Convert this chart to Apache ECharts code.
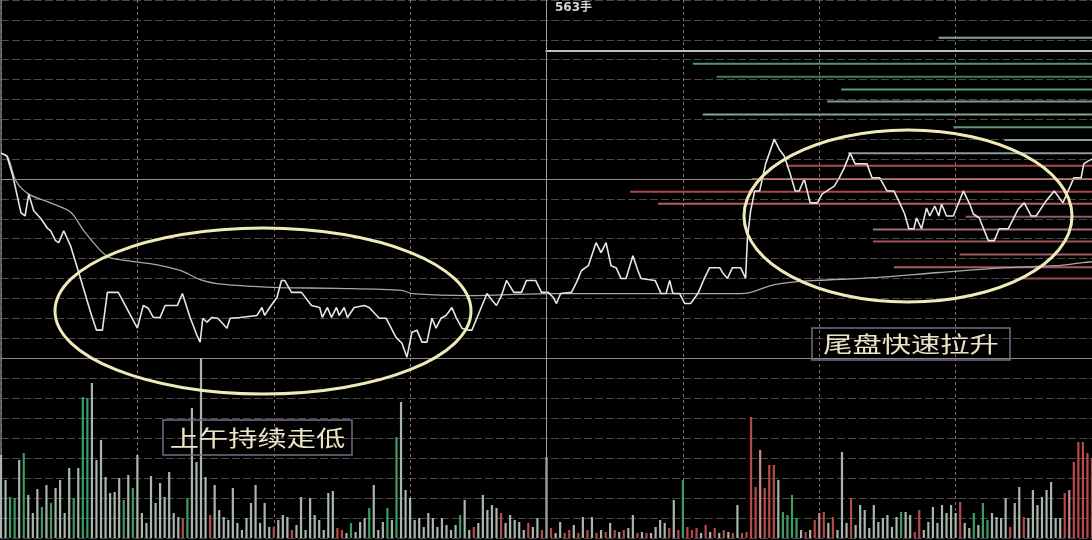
<!DOCTYPE html>
<html><head><meta charset="utf-8">
<script src="https://cdn.jsdelivr.net/npm/echarts@6/dist/echarts.min.js"></script>
<style>html,body{margin:0;padding:0;background:#000;}#c{width:1092px;height:540px;}</style>
</head><body><div id="c"></div>
<script>
// ---- time axis (minutes since open), 30-minute ticks ----
const timeTicks = [0, 30, 60, 90, 120, 150, 180, 210, 240];

// ---- price line vertices (minute, % change vs prev close) ----
const priceTimes = [0,1.3,2.6,4.4,5.3,6.1,7.2,8.8,10.3,10.9,12.0,12.7,13.8,15.3,17.5,19.7,21.0,22.3,23.4,25.8,28.5,30.0,31.3,32.4,33.5,35.0,36.1,38.8,39.9,41.6,43.1,43.8,44.4,45.3,46.4,47.7,49.7,50.4,52.6,56.3,57.4,58.0,59.1,60.7,61.7,62.4,63.9,66.1,68.3,70.1,70.7,71.8,72.7,73.8,74.4,75.5,76.2,77.7,79.9,81.0,83.2,84.7,86.9,88.2,89.3,90.4,91.5,92.6,93.7,94.8,95.7,96.8,97.9,99.2,100.1,101.4,102.9,103.6,105.1,106.9,108.0,109.0,110.1,111.2,112.8,114.5,115.6,117.6,118.9,120.4,121.5,122.2,123.1,125.5,126.6,127.7,129.2,130.9,132.0,133.1,134.2,135.3,136.4,137.5,139.0,140.1,140.8,143.9,145.2,146.3,147.1,147.8,149.3,150.4,151.7,153.3,154.8,155.9,158.1,158.7,159.8,160.9,162.7,163.8,164.2,164.9,165.8,166.9,168.2,170.1,171.2,172.3,173.6,174.7,175.6,176.7,178.0,179.6,180.6,181.7,183.3,184.4,185.5,186.8,187.9,190.5,191.6,193.3,194.9,196.4,197.7,198.8,199.7,200.8,201.4,202.5,203.6,204.3,205.4,206.3,206.9,208.0,209.5,211.7,213.1,213.9,215.2,217.2,218.5,219.6,221.6,223.8,225.1,226.6,227.7,229.9,231.7,233.6,236.0,237.6,238.2,239.1,240];
const priceValues = [0.65,0.58,0.08,-0.85,-0.93,-0.38,-0.8,-1.0,-1.25,-1.3,-1.55,-1.6,-1.3,-1.68,-2.5,-3.35,-3.8,-3.8,-2.85,-2.85,-3.43,-3.75,-3.18,-3.25,-3.48,-3.48,-3.18,-3.18,-2.88,-3.48,-3.93,-4.1,-3.5,-3.6,-3.48,-3.5,-3.75,-3.5,-3.48,-3.43,-3.23,-3.43,-3.23,-2.98,-2.55,-2.55,-2.85,-2.85,-3.18,-3.23,-3.48,-3.23,-3.48,-3.23,-3.43,-3.23,-3.48,-3.23,-3.18,-3.23,-3.5,-3.5,-3.98,-4.13,-4.48,-3.85,-3.8,-4.1,-4.1,-3.5,-3.75,-3.5,-3.43,-3.23,-3.48,-3.75,-3.8,-3.8,-3.38,-2.88,-3.05,-3.18,-2.93,-2.55,-2.85,-2.85,-2.55,-2.55,-2.85,-2.85,-2.98,-3.13,-2.88,-2.85,-2.6,-2.3,-2.18,-1.6,-1.85,-1.6,-2.18,-2.23,-2.5,-2.5,-1.93,-2.3,-2.5,-2.55,-2.88,-2.88,-2.55,-2.88,-2.88,-3.13,-3.13,-2.88,-2.48,-2.23,-2.23,-2.35,-2.5,-2.23,-2.23,-2.5,-1.48,-0.8,-0.3,-0.3,0.38,1.0,0.75,0.58,0.13,-0.3,-0.3,0.0,-0.6,-0.6,-0.38,-0.3,-0.18,0.03,0.28,0.65,0.38,0.38,0.03,0.03,-0.3,-0.3,-0.6,-0.88,-1.25,-1.25,-0.98,-1.25,-0.73,-0.93,-0.68,-0.93,-0.63,-0.93,-0.93,-0.3,-0.63,-0.88,-0.98,-1.55,-1.55,-1.25,-1.25,-0.75,-0.6,-0.93,-0.93,-0.55,-0.3,-0.6,0.03,0.03,0.38,0.45,0.5];

// ---- average price line vertices ----
const avgTimes = [0,1.5,3.3,6.1,10.9,15.3,18.2,21.9,24.1,32.8,39.4,43.8,47.5,55.4,61.3,73.8,88.2,90.4,102.9,120.4,162.0,164.9,169.3,173.6,179.6,192.0,206.5,221.2,232.1,238.0,240];
const avgValues = [0.65,0.55,-0.05,-0.38,-0.6,-0.83,-1.3,-1.8,-1.98,-2.13,-2.3,-2.53,-2.63,-2.7,-2.73,-2.75,-2.8,-2.88,-2.93,-2.88,-2.88,-2.85,-2.68,-2.6,-2.55,-2.48,-2.35,-2.23,-2.18,-2.1,-2.08];

// ---- per-minute volume (lots) and colour code: w grey, g green, r red, p pink ----
const volumes = [4150,2900,2050,2000,3900,4250,2150,1250,2450,1550,2650,1750,2500,2900,1250,3500,2000,3500,7050,7000,7750,3900,4900,3050,2250,2300,3000,1900,3150,2500,4150,1250,750,3100,1750,2750,2050,3300,1250,1050,1000,2000,6500,3800,9000,3050,1150,2650,1400,1050,900,2500,750,400,1000,1750,2650,750,1750,550,
550,900,1150,1050,400,650,2050,400,2000,1150,900,400,2250,2350,500,400,250,750,300,800,1000,1500,2650,400,800,1500,900,5050,6800,2400,2000,900,1000,550,1250,1000,550,1000,650,400,650,1150,1900,400,550,750,2150,1400,1650,1500,1250,750,1150,900,800,400,750,550,1000,400,
4050,500,250,800,250,400,650,250,1050,400,1050,250,400,300,750,400,300,400,500,1150,250,300,250,250,550,900,750,500,1900,400,2900,550,400,500,250,650,300,500,250,400,300,250,1650,250,300,6050,2550,4400,2500,3650,3650,2900,1300,1150,2150,1000,400,300,400,900,
1250,1300,750,1050,400,4300,750,2000,650,1650,1400,500,1650,800,1000,1150,550,1050,1300,1300,1150,300,1400,400,800,1550,750,1650,1250,1650,1250,1800,750,500,1250,650,1750,900,1250,1050,1000,2000,550,1750,2550,1050,1000,2400,1650,2050,2400,2800,1000,1000,2250,2400,3800,4800,4800,4250,4000];
const volumeColorCodes = ("wwggwgwwwg"+"wgwwwwgwgg"+"wwwwwwwgwg"+"wwwwwwwwww"+"rgwwwwrwww"+"wwwwwwwwww"+
  "rwwwrwwwww"+"wwwwrrwgww"+"wgwwwgwgww"+"wwwwwwwwww"+"wgwwrwwwww"+"rwwwwwrwwr"+
  "wrwwrrwrwr"+"wrwrwrwrww"+"rwrwwwwrwr"+"grrrwrwrwr"+"wrwrrrrprr"+"rwggggwrwr"+
  "prwrwwwrww"+"wwwwwwwwgw"+"wrrwwwwwww"+"wrwwgwggww"+"wwrwwrwwww"+"wwwwrprrrrr").split('');

// ---- chip distribution (price level %, size, colour) ----
const chipPrices = [3.55,3.22,2.9,2.57,2.25,1.95,1.62,1.3,0.98,0.65,0.33,0,-0.32,-0.62,-0.95,-1.27,-1.57,-1.9,-2.22,-2.5];
const chipSizes  = [154,549,401,377,252,266,391,139,88,245,307,342,464,436,127,220,220,133,199,70];
const chipColors = ['#86a392','#b8c2bd','#4f9a6a','#3f7f55','#5aa070','#7a9e88','#8aa394','#5a9a70','#86a394','#8a9a96',
                    '#b04848','#b85050','#a84848','#b06060','#905a60','#a07078','#a05058','#a06068','#a85a5a','#905050'];

const colorMap = {w:'#a9b6ae', g:'#3d9c64', r:'#b84a4a', p:'#c88a8a'};

const chart = echarts.init(document.getElementById('c'));
const W = 1096;
const dashedV = {show:true, lineStyle:{color:'#8c7070', type:[3,3], width:1}};
const dashedH = {show:true, lineStyle:{color:'#4a4a4a', type:[8,3], width:1}};

chart.setOption({
  backgroundColor:'#000',
  animation:false,
  grid:[
    {left:1, top:-2, width:W, height:360},
    {left:1, top:-2, width:W, height:360},
    {left:1, top:358, width:W, height:180}
  ],
  xAxis:[
    {gridIndex:0, type:'value', min:timeTicks[0], max:timeTicks[timeTicks.length-1], interval:30,
     axisLine:{show:true, onZero:false, lineStyle:{color:'#8a8a8a'}}, axisTick:{show:false}, axisLabel:{show:false}, splitLine:dashedV},
    {gridIndex:1, type:'value', min:0, max:W, inverse:true, show:false},
    {gridIndex:2, type:'value', min:timeTicks[0], max:timeTicks[timeTicks.length-1], interval:30,
     axisLine:{show:false}, axisTick:{show:false}, axisLabel:{show:false}, splitLine:dashedV}
  ],
  yAxis:[
    {gridIndex:0, type:'value', min:-4.5, max:4.5, interval:0.5,
     axisLine:{show:true, lineStyle:{color:'#7a7a7a', width:1.5}}, axisTick:{show:false}, axisLabel:{show:false}, splitLine:dashedH},
    {gridIndex:1, type:'value', min:-4.5, max:4.5, show:false},
    {gridIndex:2, type:'value', min:0, max:9000, interval:1000,
     axisLine:{show:true, lineStyle:{color:'#7a7a7a', width:1.5}}, axisTick:{show:false}, axisLabel:{show:false}, splitLine:dashedH}
  ],
  series:[
    {type:'custom', xAxisIndex:1, yAxisIndex:1, z:1,
     data: chipPrices.map((p,i)=>[chipSizes[i], p]),
     renderItem:(params, api)=>{
       const a = api.coord([0, api.value(1)]);
       const b = api.coord([api.value(0), api.value(1)]);
       return {type:'line', shape:{x1:a[0], y1:a[1], x2:b[0], y2:b[1]},
               style:{stroke:chipColors[params.dataIndex], lineWidth:2}};
     }},
    {type:'line', xAxisIndex:0, yAxisIndex:0, z:3, showSymbol:false, smooth:0.3,
     data: avgTimes.map((t,i)=>[t, avgValues[i]]),
     lineStyle:{color:'#a8a8a8', width:1.3},
     markLine:{silent:true, symbol:'none', label:{show:false}, animation:false,
       data:[{xAxis:120, lineStyle:{color:'#a0a0a0', type:'solid', width:1}},
             {yAxis:0, lineStyle:{color:'#948c8c', type:'solid', width:1}}]}},
    {type:'line', xAxisIndex:0, yAxisIndex:0, z:4, showSymbol:false,
     data: priceTimes.map((t,i)=>[t, priceValues[i]]),
     lineStyle:{color:'#e6e6e6', width:1.6}},
    {type:'bar', xAxisIndex:2, yAxisIndex:2, barWidth:2.2, z:3,
     data: volumes.map((v,i)=>({value:[i, v], itemStyle:{color:colorMap[volumeColorCodes[i]]}})),
     markLine:{silent:true, symbol:'none', label:{show:false}, animation:false,
       data:[{xAxis:120, lineStyle:{color:'#a0a0a0', type:'solid', width:1}}]}}
  ],
  graphic:[
    {type:'text', left:555, top:2, style:{text:'563手', fill:'#d4d4d4', font:'bold 12px "DejaVu Sans", "Noto Sans CJK SC"'}},
    {type:'ellipse', shape:{cx:263, cy:311, rx:208, ry:83}, style:{fill:'none', stroke:'#efeab8', lineWidth:3}, z:10},
    {type:'ellipse', shape:{cx:908, cy:216, rx:164, ry:86}, style:{fill:'none', stroke:'#efeab8', lineWidth:3}, z:10},
    {type:'rect', shape:{x:163, y:420, width:189, height:35}, style:{fill:'none', stroke:'#7a6a8a', lineWidth:1.5}, z:10},
    {type:'text', x:257.5, y:438, scaleX:1.33, z:11,
     style:{text:'上午持续走低', fill:'#ebe5c5', fontSize:22, fontFamily:'"Noto Sans CJK SC"', align:'center', verticalAlign:'middle',
            textAlign:'center', textVerticalAlign:'middle'}},
    {type:'rect', shape:{x:812, y:328, width:198, height:32}, style:{fill:'none', stroke:'#7a6a8a', lineWidth:1.5}, z:10},
    {type:'text', x:911, y:344, scaleX:1.33, z:11,
     style:{text:'尾盘快速拉升', fill:'#ebe5c5', fontSize:22, fontFamily:'"Noto Sans CJK SC"', align:'center', verticalAlign:'middle',
            textAlign:'center', textVerticalAlign:'middle'}}
  ]
});
</script>
</body></html>
